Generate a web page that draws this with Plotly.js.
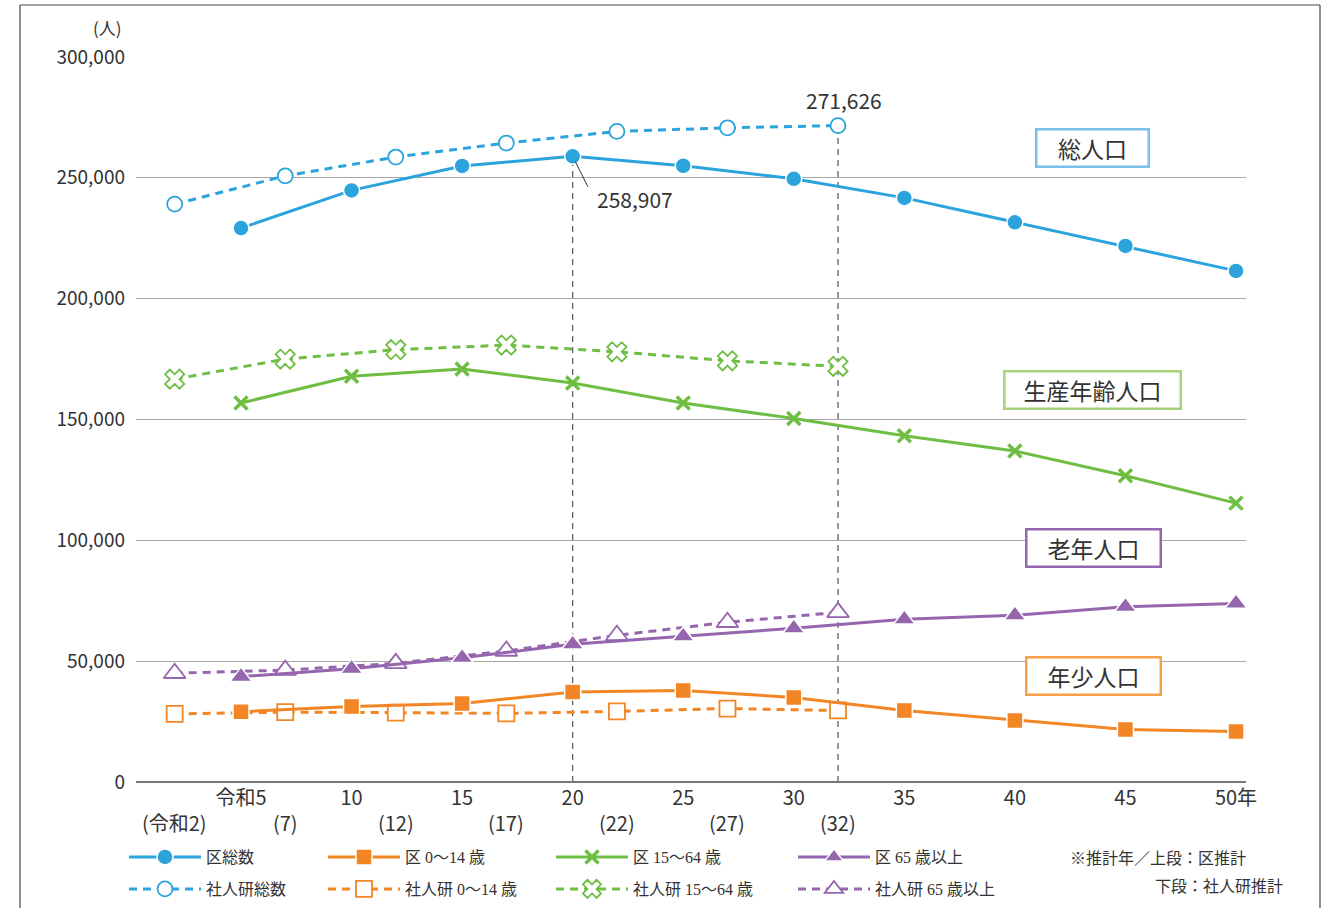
<!DOCTYPE html>
<html>
<head>
<meta charset="utf-8">
<script src="https://cdn.plot.ly/plotly-3.0.1.min.js"></script>
<style>html,body{margin:0;padding:0;background:#fff;}#chart{width:1338px;height:908px;}</style>
</head>
<body>
<div id="chart"></div>
<script>
// ---- data ----
const wardYears = [5, 10, 15, 20, 25, 30, 35, 40, 45, 50];
const ipssYears = [2, 7, 12, 17, 22, 27, 32];

const wardTotal = [229200, 244800, 254900, 258907, 255000, 249600, 241700, 231600, 221800, 211500];
const ipssTotal = [239100, 250800, 258600, 264400, 269200, 270700, 271626];

const ward1564 = [156800, 167900, 170900, 165100, 156800, 150400, 143300, 137000, 126700, 115400];
const ipss1564 = [166700, 175000, 178900, 180800, 178000, 174300, 172000];

const ward65 = [43600, 46900, 51400, 57000, 60300, 63600, 67300, 69000, 72500, 73900];
const ipss65 = [45000, 46300, 49100, 54200, 60700, 66100, 70200];

const ward014 = [29100, 31200, 32500, 37200, 37900, 35000, 29600, 25500, 21700, 20900];
const ipss014 = [28200, 28900, 28700, 28400, 29200, 30400, 29600];

const wardTickText = ['令和5', '10', '15', '20', '25', '30', '35', '40', '45', '50年'];
const ipssTickText = ['(令和2)', '(7)', '(12)', '(17)', '(22)', '(27)', '(32)'];

const seriesNames = {
  wardTotal: '区総数', ipssTotal: '社人研総数',
  ward014: '区 0～14 歳', ipss014: '社人研 0～14 歳',
  ward1564: '区 15～64 歳', ipss1564: '社人研 15～64 歳',
  ward65: '区 65 歳以上', ipss65: '社人研 65 歳以上'
};
const groupLabels = ['総人口', '生産年齢人口', '老年人口', '年少人口'];

// ---- styles ----
const BLUE = '#2ba3dd', ORANGE = '#f28524', GREEN = '#6fbe44', PURPLE = '#9566ae';
const JP = '"Noto Sans CJK JP", "Noto Sans", sans-serif';
const LEG = '"Liberation Serif", "Noto Sans CJK JP", serif';
const TXT = '#333333';

function ward(y, name, color, symbol, size, legend) {
  const isX = symbol === 'x-thin';
  return {
    type: 'scatter', mode: 'lines+markers', x: wardYears, y: y, name: name,
    legend: legend, cliponaxis: false,
    line: {color: color, width: 3},
    marker: isX ? {symbol: 'x-thin', size: size, color: color, line: {color: color, width: 3.5}}
                : {symbol: symbol, size: size, color: color, line: {color: '#ffffff', width: 1.5}},
    hoverinfo: 'x+y'
  };
}
function ipss(y, name, color, symbol, size, legend) {
  return {
    type: 'scatter', mode: 'lines+markers', x: ipssYears, y: y, name: name,
    legend: legend, cliponaxis: false,
    line: {color: color, width: 3, dash: '8px,6px'},
    marker: {symbol: symbol, size: size, color: '#ffffff', line: {color: color, width: 1.8}},
    hoverinfo: 'x+y'
  };
}

const traces = [
  ipss(ipssTotal, seriesNames.ipssTotal, BLUE, 'circle', 15, 'legend2'),
  ward(wardTotal, seriesNames.wardTotal, BLUE, 'circle', 16, 'legend'),
  ipss(ipss1564, seriesNames.ipss1564, GREEN, 'x', 17, 'legend6'),
  ward(ward1564, seriesNames.ward1564, GREEN, 'x-thin', 13, 'legend5'),
  ipss(ipss65, seriesNames.ipss65, PURPLE, 'triangle-up', 19, 'legend8'),
  ward(ward65, seriesNames.ward65, PURPLE, 'triangle-up', 19, 'legend7'),
  ipss(ipss014, seriesNames.ipss014, ORANGE, 'square', 16, 'legend4'),
  ward(ward014, seriesNames.ward014, ORANGE, 'square', 16, 'legend3')
];

// ---- layout geometry (pixels -> paper / container) ----
const W = 1338, H = 908;
const L = 136, R = 92, T = 57, B = 126;
const pw = W - L - R, ph = H - T - B;
const px = v => (v - L) / pw;
const py = v => (H - B - v) / ph;
const cx = v => v / W;
const cy = v => 1 - v / H;

// legends (container-referenced so they do not push the margins)
const legendCols = [124, 323, 551, 793];
const legendRows = [857, 889];
const legendKeys = ['legend', 'legend2', 'legend3', 'legend4', 'legend5', 'legend6', 'legend7', 'legend8'];
const legends = {};
legendKeys.forEach((k, i) => {
  const col = Math.floor(i / 2), row = i % 2;
  legends[k] = {
    xref: 'container', yref: 'container',
    x: cx(legendCols[col]), xanchor: 'left',
    y: cy(legendRows[row]), yanchor: 'middle',
    bgcolor: 'rgba(0,0,0,0)', borderwidth: 0,
    font: {family: LEG, size: 16, color: TXT},
    itemwidth: 72, itemsizing: 'trace', orientation: 'v'
  };
});

const annotations = [];
// second row of x labels (社人研 years)
ipssYears.forEach((yr, i) => {
  annotations.push({
    x: yr, xref: 'x', y: py(822), yref: 'paper', text: ipssTickText[i],
    showarrow: false, xanchor: 'center', yanchor: 'middle',
    font: {family: JP, size: 20, color: TXT}
  });
});
// unit label
annotations.push({x: px(107), y: py(28), xref: 'paper', yref: 'paper', text: '(人)', showarrow: false,
  xanchor: 'center', yanchor: 'middle', font: {family: JP, size: 17, color: TXT}});
// value callouts
const iPeak = wardYears.indexOf(20);
const iLast = ipssYears.length - 1;
annotations.push({x: ipssYears[iLast], y: ipssTotal[iLast], xref: 'x', yref: 'y',
  text: ipssTotal[iLast].toLocaleString('en-US'), showarrow: false, yshift: 26, xshift: 6,
  font: {family: JP, size: 21, color: TXT}});
annotations.push({x: wardYears[iPeak], y: wardTotal[iPeak], xref: 'x', yref: 'y', text: '',
  showarrow: true, arrowhead: 0, arrowwidth: 1, arrowcolor: '#333', ax: 16, ay: 32, standoff: 6});
annotations.push({x: wardYears[iPeak], y: wardTotal[iPeak], xref: 'x', yref: 'y',
  text: wardTotal[iPeak].toLocaleString('en-US'), showarrow: false, xshift: 62, yshift: -43,
  font: {family: JP, size: 21, color: TXT}});
// group label boxes
const boxes = [
  {t: groupLabels[0], cx: 1092, cy: 148, w: 108, c: '#79c0ea'},
  {t: groupLabels[1], cx: 1092, cy: 390, w: 172, c: '#a5d27a'},
  {t: groupLabels[2], cx: 1093, cy: 548, w: 130, c: '#9566ae'},
  {t: groupLabels[3], cx: 1093, cy: 676, w: 130, c: '#f6a04d'}
];
boxes.forEach(b => annotations.push({
  x: px(b.cx), y: py(b.cy), xref: 'paper', yref: 'paper', text: b.t, showarrow: false,
  xanchor: 'center', yanchor: 'middle', width: b.w, height: 33, borderpad: 1,
  bordercolor: b.c, borderwidth: 2.5, bgcolor: '#ffffff',
  font: {family: JP, size: 23, color: TXT}
}));
// notes
annotations.push({x: px(1068), y: py(857), xref: 'paper', yref: 'paper', text: '※推計年／上段：区推計',
  showarrow: false, xanchor: 'left', yanchor: 'middle', font: {family: JP, size: 16, color: TXT}});
annotations.push({x: px(1153), y: py(885), xref: 'paper', yref: 'paper', text: '下段：社人研推計',
  showarrow: false, xanchor: 'left', yanchor: 'middle', font: {family: JP, size: 16, color: TXT}});

const shapes = [
  {type: 'line', xref: 'x', yref: 'y', x0: wardYears[iPeak], x1: wardYears[iPeak], y0: 0, y1: wardTotal[iPeak],
   line: {color: '#555', width: 1.2, dash: '6px,5px'}, layer: 'below'},
  {type: 'line', xref: 'x', yref: 'y', x0: ipssYears[iLast], x1: ipssYears[iLast], y0: 0, y1: ipssTotal[iLast],
   line: {color: '#555', width: 1.2, dash: '6px,5px'}, layer: 'below'},
  // frame
  {type: 'line', xref: 'paper', yref: 'paper', x0: px(20), x1: px(20), y0: py(5), y1: py(912), line: {color: '#444', width: 1.2}},
  {type: 'line', xref: 'paper', yref: 'paper', x0: px(20), x1: px(1320), y0: py(5), y1: py(5), line: {color: '#444', width: 1.2}},
  {type: 'line', xref: 'paper', yref: 'paper', x0: px(1320), x1: px(1320), y0: py(5), y1: py(912), line: {color: '#444', width: 1.2}}
];

const layout = Object.assign({
  width: W, height: H,
  margin: {l: L, r: R, t: T, b: B, pad: 0, autoexpand: false},
  paper_bgcolor: '#ffffff', plot_bgcolor: '#ffffff',
  showlegend: true,
  font: {family: JP, color: TXT},
  xaxis: {
    range: [5 - (241 - L) / 22.11, 50 + (L + pw - 1236) / 22.11],
    tickvals: wardYears, ticktext: wardTickText,
    tickfont: {family: JP, size: 20, color: TXT},
    showgrid: false, zeroline: false, showline: false, ticks: '', ticklabelstandoff: 2,
    fixedrange: true
  },
  yaxis: {
    range: [0, 300000], tickvals: [0, 50000, 100000, 150000, 200000, 250000, 300000],
    tickformat: ',d', tickfont: {family: JP, size: 19, color: TXT},
    showgrid: true, gridcolor: '#a6a6a6', gridwidth: 1,
    zeroline: true, zerolinecolor: '#777777', zerolinewidth: 1.5,
    showline: false, ticks: '', ticklabelstandoff: 10, fixedrange: true
  },
  annotations: annotations,
  shapes: shapes
}, legends);

Plotly.newPlot('chart', traces, layout, {displayModeBar: false, staticPlot: true});
</script>
</body>
</html>
